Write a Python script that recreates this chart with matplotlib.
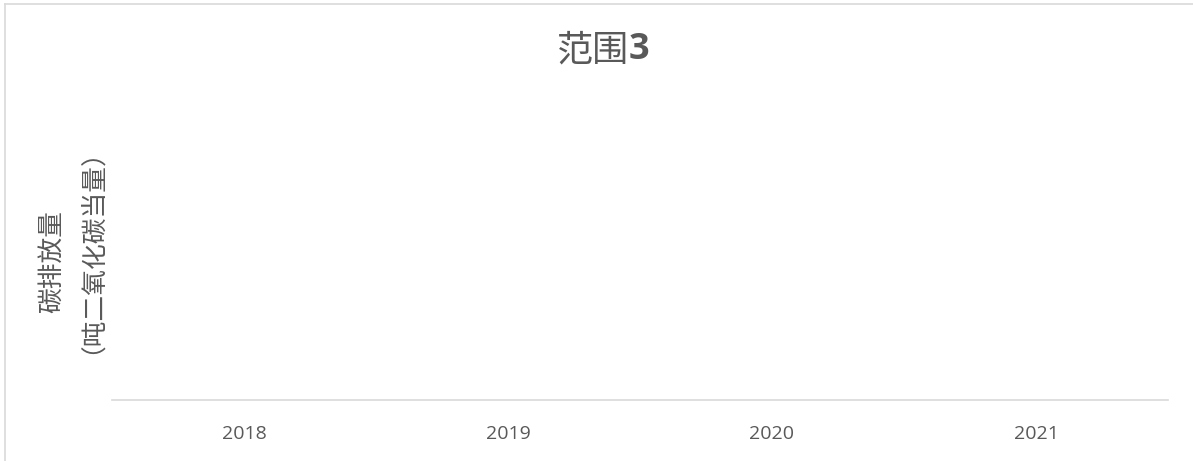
import matplotlib.pyplot as plt
from matplotlib.lines import Line2D

plt.rcParams['font.family'] = ['Noto Sans CJK SC', 'DejaVu Sans']

# DATA ---------------------------------------------------------------
years = ['2018', '2019', '2020', '2021']
scope3 = [None, None, None, None]      # no values shown in the chart
title_main = '范围'
title_num = '3'
y_label_1 = '碳排放量'
y_label_2 = '（吨二氧化碳当量）'

grey = '#595959'

# FIGURE -------------------------------------------------------------
fig = plt.figure(figsize=(11.93, 4.61), dpi=100)
W, H = 1193, 461
ax = fig.add_axes([112 / W, 1 - 400 / H, (1168 - 112) / W, (400 - 100) / H])

x = list(range(len(years)))
vals = [0 if v is None else v for v in scope3]
ax.bar(x, vals, width=0.6, color='#4472C4')

ax.set_xlim(-0.5, len(years) - 0.5)
ax.set_ylim(0, 1)
ax.set_xticks(x)
ax.set_xticklabels(years, fontsize=14, color=grey, family=['Open Sans', 'DejaVu Sans'])
ax.tick_params(axis='x', length=0, pad=18)
ax.set_yticks([])
for s in ['top', 'right', 'left']:
    ax.spines[s].set_visible(False)
ax.spines['bottom'].set_color('#d9d9d9')
ax.spines['bottom'].set_linewidth(1.2)

# y-axis label (two rotated lines)
fig.text(53 / W, 1 - 261 / H, y_label_1, rotation=90, ha='center', va='center',
         fontsize=18.5, color=grey, fontweight='light')
fig.text(79 / W, 1 - 238 / H, y_label_2, rotation=90, ha='center', va='center',
         fontsize=18.5, color=grey, fontweight='light')

# title: "范围" regular, "3" bold
fig.text(629 / W, 1 - 50 / H, title_main, ha='right', va='center',
         fontsize=26, color=grey)
fig.text(629 / W, 1 - 50 / H, title_num, ha='left', va='center',
         fontsize=26, color=grey, fontweight='bold',
         family=['Open Sans', 'DejaVu Sans'])

# chart border (only left and top visible)
fig.add_artist(Line2D([4.5 / W, 4.5 / W], [0, 1 - 4.5 / H], color='#d9d9d9', lw=1.2))
fig.add_artist(Line2D([4.5 / W, 1], [1 - 4.5 / H, 1 - 4.5 / H], color='#d9d9d9', lw=1.2))

fig.savefig('out.png', dpi=100)
